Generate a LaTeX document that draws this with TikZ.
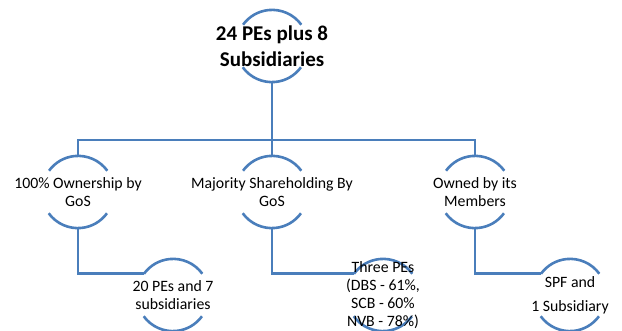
\documentclass[tikz,border=0pt]{standalone}
\usepackage{fontspec}
\setmainfont{Carlito}
\usetikzlibrary{positioning}
\definecolor{linkBlue}{HTML}{4A7EBB}
\tikzset{
  ring/.style={circle, minimum size=72pt, inner sep=0pt},
  arcline/.style={draw=linkBlue, line width=2.6pt},
  link/.style={draw=linkBlue, line width=2.6pt},
  label/.style={align=center, font=\fontsize{15.8}{18}\selectfont},
}

\begin{document}
\begin{tikzpicture}[x=1pt, y=1pt]
    \useasboundingbox (0,0) rectangle (622,-331);

    % cercles (seuls les arcs haut et bas sont visibles)
    \node[ring] (root)   at (272,-46)  {};
    \node[ring] (own)    at (78,-192)  {};
    \node[ring] (maj)    at (272,-192) {};
    \node[ring] (mem)    at (475,-192) {};
    \node[ring] (ownSub) at (173,-295) {};
    \node[ring] (majSub) at (383,-295) {};
    \node[ring] (memSub) at (570,-295) {};

    \foreach \n in {root, own, maj, mem, ownSub, majSub, memSub} {
      \draw[arcline] (\n.36)  arc[start angle=36,  end angle=144, radius=36pt];
      \draw[arcline] (\n.216) arc[start angle=216, end angle=324, radius=36pt];
    }

    % liaisons
    \coordinate (bus) at (272,-140);
    \draw[link] (root.south) -- (bus) -- (maj.north);
    \draw[link] (own.north) |- (bus) -| (mem.north);
    \draw[link] (own.south) |- (ownSub.144);
    \draw[link] (maj.south) |- (majSub.144);
    \draw[link] (mem.south) |- (memSub.144);

    % textes
    \node[align=center, font=\fontsize{21}{26.5}\selectfont\bfseries] (rootText) at (root)
      {24 PEs plus 8\\Subsidiaries};
    \node[label] (ownText) at (own) {100\% Ownership by\\GoS};
    \node[label] (majText) at (maj) {Majority Shareholding By\\GoS};
    \node[label] (memText) at (mem) {Owned by its\\Members};
    \node[label] (ownSubText) at (ownSub) {20 PEs and 7\\subsidiaries};
    \node[label] (majSubText) at (majSub) {Three PEs\\(DBS - 61\%,\\SCB - 60\%\\NVB - 78\%)};
    \node[label, font=\fontsize{15.8}{24}\selectfont] (memSubText) at (memSub) {SPF and\\1 Subsidiary};
  \end{tikzpicture}
\end{document}
